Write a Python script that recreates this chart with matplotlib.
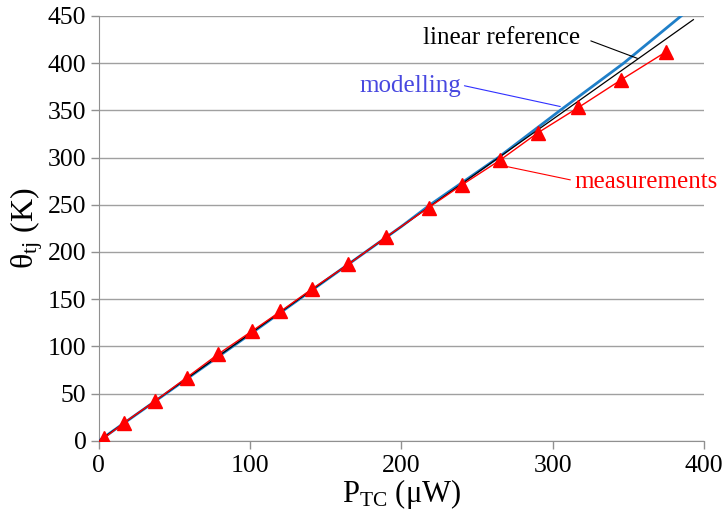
import numpy as np
import matplotlib
matplotlib.use('Agg')
import matplotlib.pyplot as plt

plt.rcParams['font.family'] = 'Liberation Serif'
plt.rcParams['mathtext.fontset'] = 'custom'
plt.rcParams['mathtext.rm'] = 'Liberation Serif'
plt.rcParams['mathtext.it'] = 'Liberation Serif'

# measurements (P_TC in uW, theta in K)
meas_p = [3.5, 16.5, 37, 58, 79, 101, 120, 141, 165, 190, 218, 240, 265, 290, 317, 345, 375]
meas_t = [3, 19, 42, 67, 92, 116, 137, 161, 187, 216, 247, 271, 297, 326, 353, 382, 412]

# modelling curve
model_p = [0, 100, 200, 219, 264, 305, 347, 385]
model_t = [0, 113, 227, 250, 300, 350, 400, 450]

# linear reference
lin_p = [0, 393]
lin_t = [0, 446]

fig = plt.figure(figsize=(7.22, 5.12), dpi=100)
ax = fig.add_axes([0.137, 0.139, 0.838, 0.83])

ax.plot(model_p, model_t, color='#1f7fc8', lw=2.0, zorder=3)
ax.plot(lin_p, lin_t, color='black', lw=0.9, zorder=4)
ax.plot(meas_p, meas_t, color='red', lw=1.0, marker='^', ms=10,
        markerfacecolor='red', markeredgecolor='red', zorder=5)

ax.set_xlim(0, 400)
ax.set_ylim(0, 450)
ax.set_xticks([0, 100, 200, 300, 400])
ax.set_yticks(np.arange(0, 451, 50))
ax.yaxis.grid(True, color='#a0a0a0', lw=1.0)
ax.set_axisbelow(True)
for s in ['top', 'right']:
    ax.spines[s].set_visible(False)
for s in ['left', 'bottom']:
    ax.spines[s].set_color('#909090')
ax.tick_params(axis='both', labelsize=18.5, color='#909090', length=6, width=1, direction='out')
ax.tick_params(axis='x', pad=4)
ax.tick_params(axis='y', pad=3)

ax.set_xlabel(r'P$_{\mathrm{TC}}$ ($\mathrm{\mu}$W)', fontsize=22, labelpad=0)
ax.set_ylabel(r'$\mathrm{\theta_{tj}}$ (K)', fontsize=23, labelpad=2)

ax.annotate('linear reference', xy=(356, 405), xytext=(266, 427),
            fontsize=18, color='black', ha='center', va='center',
            arrowprops=dict(arrowstyle='-', color='black', lw=0.8,
                            shrinkA=0, shrinkB=0, relpos=(1.07, 0.35)))
ax.annotate('modelling', xy=(305, 354), xytext=(206, 376),
            fontsize=18, color='#4848e0', ha='center', va='center',
            arrowprops=dict(arrowstyle='-', color='#3030ff', lw=0.8,
                            shrinkA=0, shrinkB=0, relpos=(1.03, 0.5)))
ax.annotate('measurements', xy=(268, 291), xytext=(314.5, 274),
            fontsize=18, color='red', ha='left', va='center',
            arrowprops=dict(arrowstyle='-', color='red', lw=0.8,
                            shrinkA=0, shrinkB=0, relpos=(-0.03, 0.6)))

fig.savefig('out.png', dpi=100)
